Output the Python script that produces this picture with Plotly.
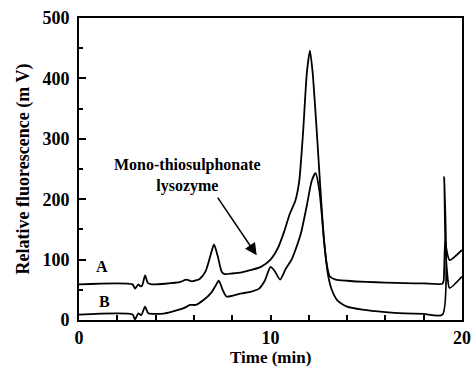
import plotly.graph_objects as go

# Trace A (upper chromatogram)
time_a = [0, 2.8, 2.92, 3.1, 3.2, 3.3, 3.45, 3.6, 3.8, 4.5, 5.3, 5.6, 5.9, 6.3, 6.6, 6.85, 7.05,
          7.25, 7.45, 7.6, 8.0, 8.5, 9.0, 9.5, 10.0, 10.4, 10.7, 11.0, 11.3, 11.5, 11.7, 11.9, 12.06,
          12.2, 12.4, 12.6, 12.8, 12.95, 13.1, 13.4, 14, 15, 16, 17, 18, 18.98, 19.04, 19.12, 19.2,
          19.35, 20]
fluor_a = [59, 59, 52, 59, 56, 57, 74, 61, 59, 60, 63, 67, 64, 68, 80, 105, 125,
           105, 80, 76, 77, 79, 83, 88, 100, 120, 145, 175, 198, 230, 310, 410, 446,
           410, 320, 220, 130, 90, 72, 67, 65, 63, 62, 61, 60.5, 60, 65, 132, 115,
           99, 116]

# Trace B (lower chromatogram)
time_b = [0, 2.8, 2.92, 3.1, 3.25, 3.45, 3.62, 4.0, 4.5, 5.0, 5.5, 5.8, 6.1, 6.5, 6.9, 7.1, 7.3,
          7.5, 7.7, 8.0, 8.5, 9.0, 9.4, 9.7, 10.0, 10.2, 10.5, 10.8, 11.1, 11.3, 11.6, 11.9, 12.15,
          12.35, 12.55, 12.8, 13.0, 13.2, 13.5, 14, 14.8, 16, 17, 18, 18.98, 19.07, 19.13, 19.22,
          19.35, 20]
fluor_b = [9, 9, 1, 11, 8, 22, 11, 10, 11, 15, 20, 25, 25, 33, 45, 55, 65,
           50, 39, 40, 44, 47, 52, 65, 88, 82, 67, 85, 100, 116, 145, 190, 230,
           243, 215, 130, 75, 50, 32, 22, 17, 13, 11, 10, 9, 237, 130, 80,
           53, 72]

x_tickvals = [0, 10, 20]
x_ticktext = ["0", "10", "20"]
y_tickvals = [0, 100, 200, 300, 400, 500]
y_ticktext = ["0", "100", "200", "300", "400", "500"]

FONT = "Liberation Serif"

fig = go.Figure()
for t, f in [(time_a, fluor_a), (time_b, fluor_b)]:
    fig.add_trace(go.Scatter(x=t, y=f, mode="lines",
                             line=dict(color="black", width=1.8, shape="spline", smoothing=0.6),
                             showlegend=False, hoverinfo="skip"))

tf = dict(size=18, family=FONT, color="black")
fig.update_layout(
    width=472, height=367,
    margin=dict(l=79, r=10, t=18, b=47),
    paper_bgcolor="white", plot_bgcolor="white",
    font=dict(family=FONT, size=17, color="black"),
    xaxis=dict(range=[0, 20], tickvals=x_tickvals, ticktext=["<b>%s</b>" % s for s in x_ticktext],
               ticks="inside", ticklen=5, tickwidth=1.5, ticklabelstandoff=0, automargin=False,
               tickcolor="black", showline=True, linecolor="black", linewidth=2, mirror=True,
               showgrid=False, zeroline=False,
               minor=dict(dtick=2, ticks="inside", ticklen=5, tickwidth=1.5, tickcolor="black"),
               tickfont=tf),
    yaxis=dict(range=[0, 500], tickvals=y_tickvals, ticktext=["<b>%s</b>" % s for s in y_ticktext],
               ticks="inside", ticklen=7, tickwidth=1.5, ticklabelstandoff=4, automargin=False,
               tickcolor="black", showline=True, linecolor="black", linewidth=2, mirror=True,
               showgrid=False, zeroline=False,
               minor=dict(dtick=50, ticks="inside", ticklen=4, tickwidth=1.5, tickcolor="black"),
               title=dict(text="<b>Relative fluorescence (m V)</b>", standoff=8, font=tf),
               tickfont=tf),
)

# x-axis title as a paper-anchored annotation so it sits below the tick labels
fig.add_annotation(x=0.5, y=-0.125, xref="paper", yref="paper", text="<b>Time (min)</b>",
                   showarrow=False, font=dict(size=17, family=FONT, color="black"),
                   xanchor="center", yanchor="middle")

af = dict(size=16, family=FONT, color="black")
fig.add_annotation(x=5.69, y=240, xref="x", yref="y", text="<b>Mono-thiosulphonate<br>lysozyme</b>",
                   showarrow=False, font=af, align="center")
fig.add_annotation(x=9.28, y=107, xref="x", yref="y", ax=7.19, ay=205, axref="x", ayref="y",
                   text="", showarrow=True, arrowhead=2, arrowsize=1.6, arrowwidth=1.5,
                   arrowcolor="black")
fig.add_annotation(x=1.22, y=88, xref="x", yref="y", text="<b>A</b>", showarrow=False, font=af)
fig.add_annotation(x=1.32, y=30, xref="x", yref="y", text="<b>B</b>", showarrow=False, font=af)

fig.write_html("out.html")
